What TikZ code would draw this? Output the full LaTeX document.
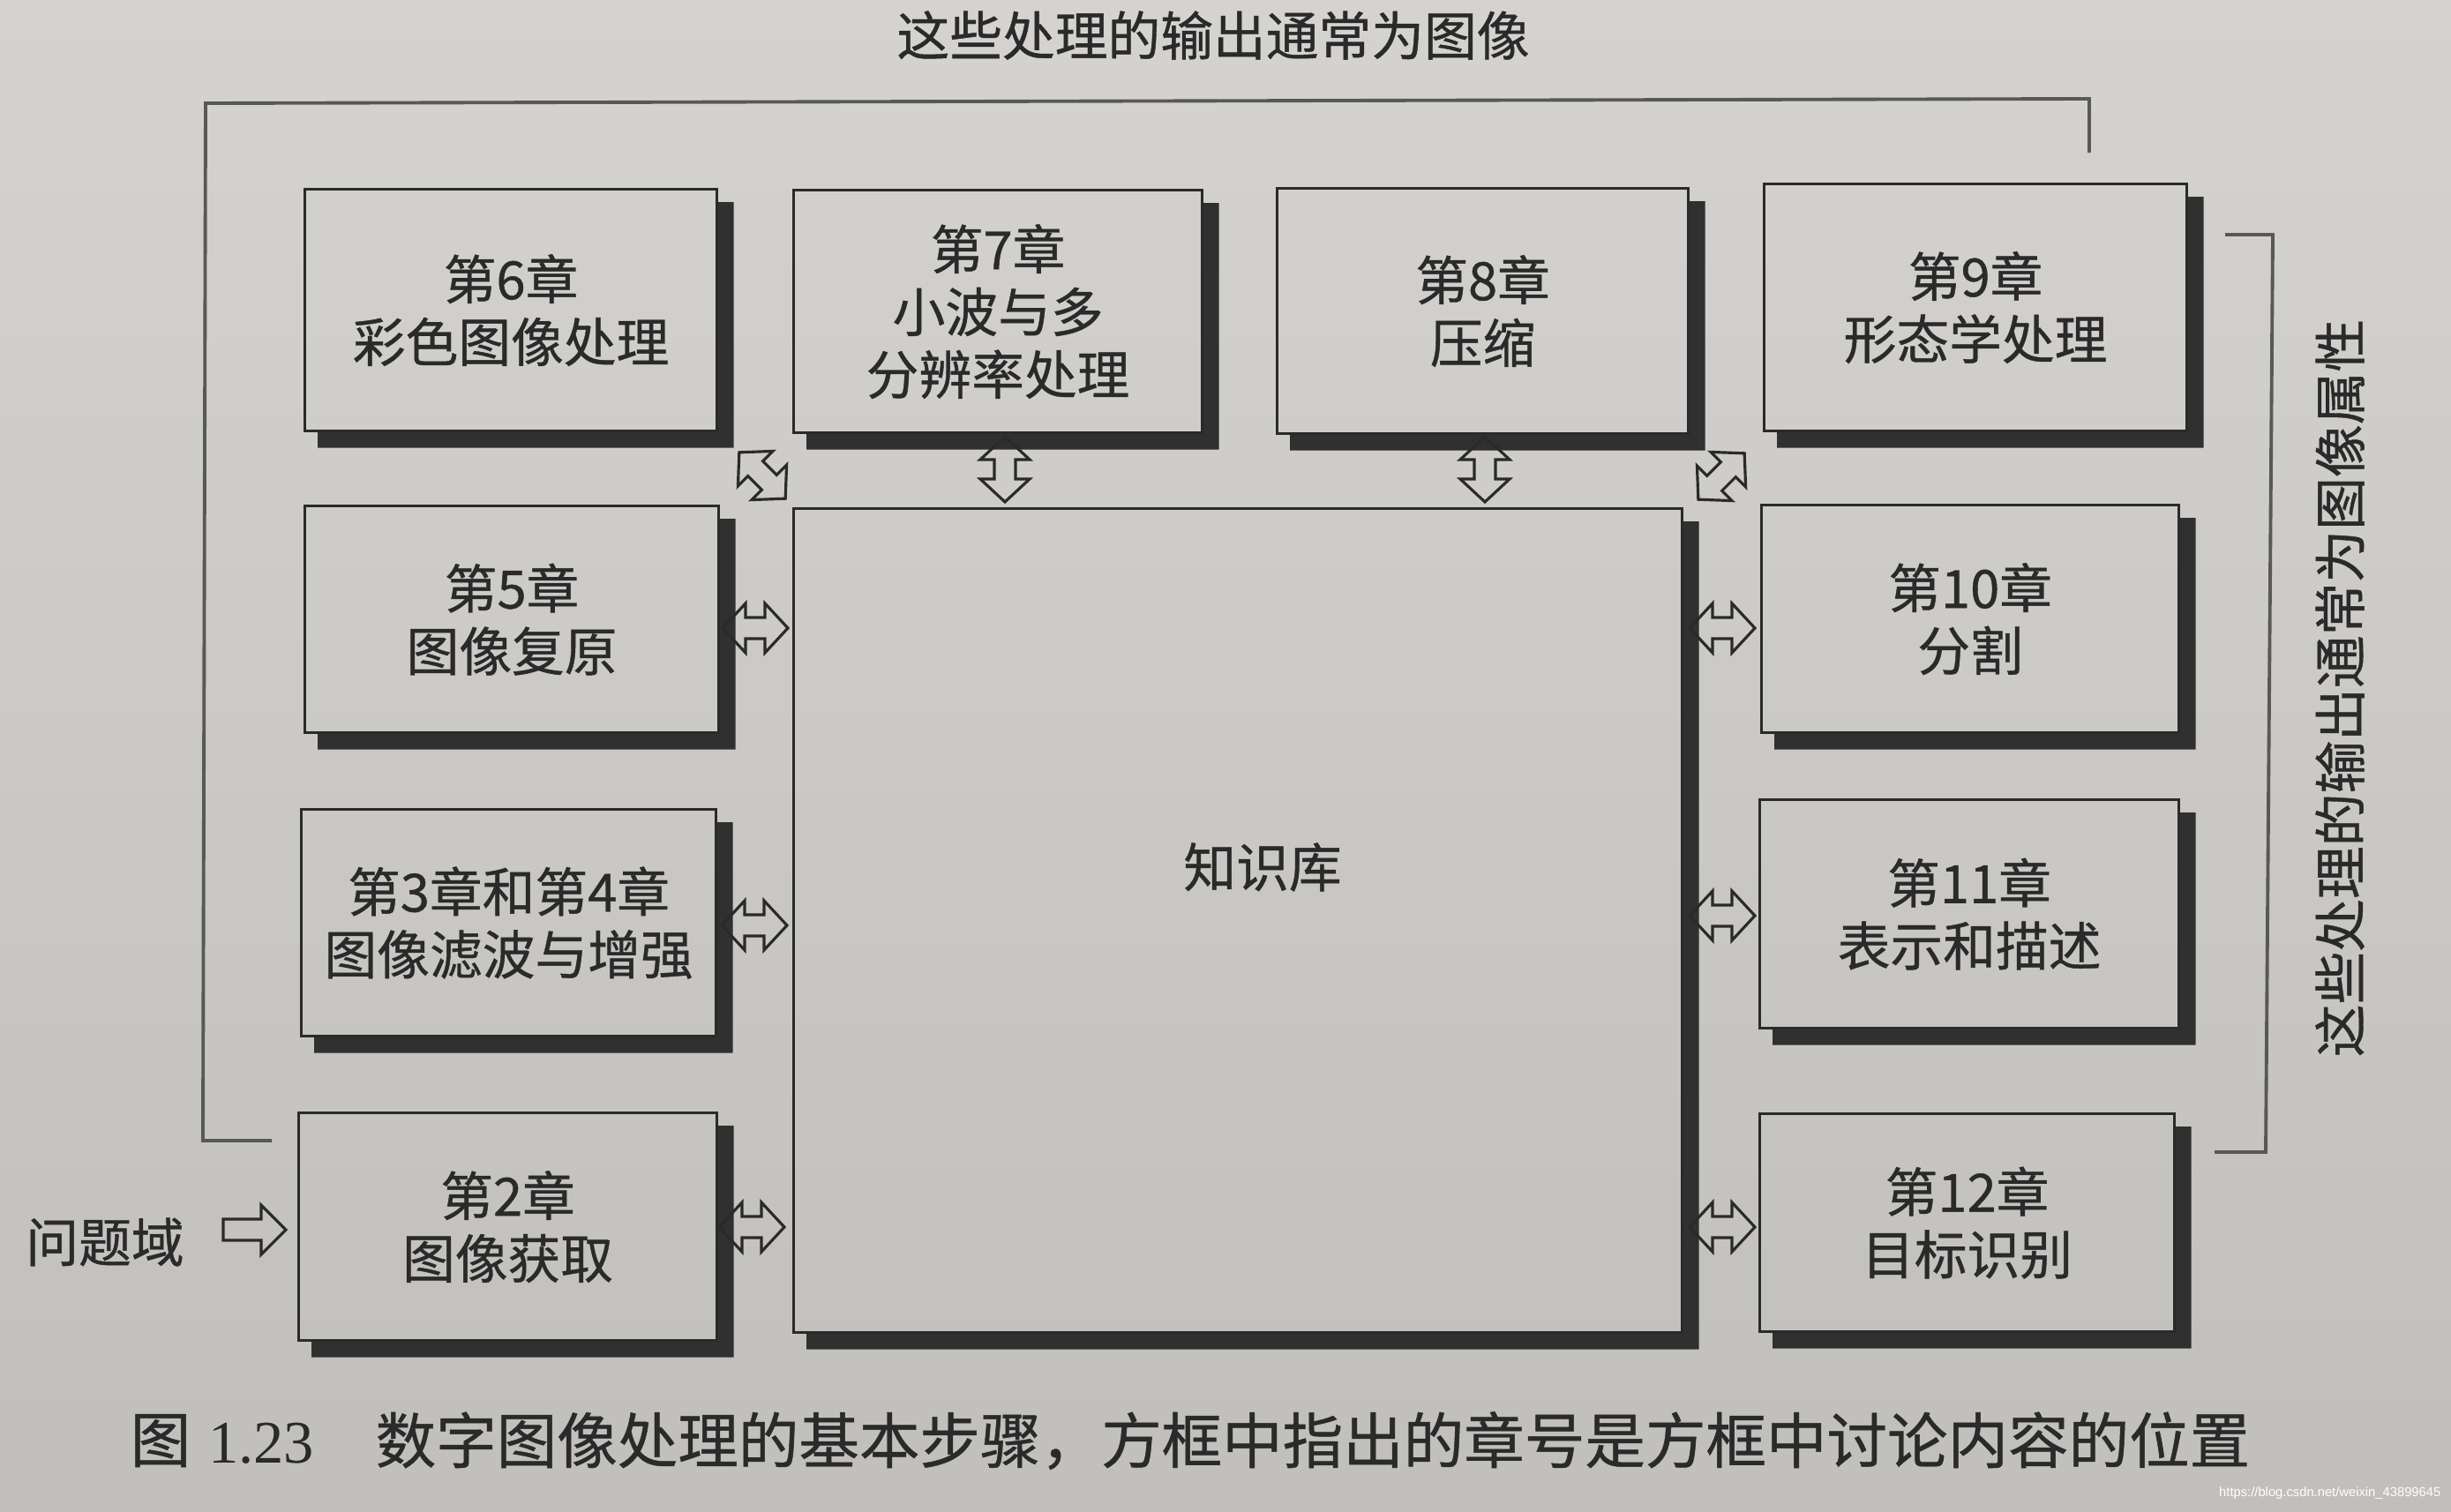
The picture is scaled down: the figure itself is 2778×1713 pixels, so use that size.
\documentclass[tikz,border=0pt]{standalone}
\usepackage{fontspec}
\setmainfont{Noto Sans CJK SC}
\newfontfamily\medfont{Noto Sans CJK SC}[FakeBold=0.7]
\newfontfamily\serifnum{Liberation Serif}
\newfontfamily\wmfont{Liberation Sans}
\usetikzlibrary{calc}
\definecolor{paperTop}{RGB}{213,211,208}
\definecolor{paperBot}{RGB}{193,191,188}
\definecolor{ink}{RGB}{42,42,42}
\definecolor{shadowcol}{RGB}{48,48,48}
\definecolor{bracketc}{RGB}{88,88,88}
\newcommand\boxshadow[1]{%
  \fill[shadowcol] ([yshift=-1.6mm]#1.north east) -- ([xshift=1.75mm,yshift=-1.6mm]#1.north east)
    -- ([xshift=1.75mm,yshift=-1.75mm]#1.south east) -- ([xshift=1.6mm,yshift=-1.75mm]#1.south west)
    -- ([xshift=1.6mm]#1.south west) -- (#1.south east) -- cycle;}
% hollow double arrow centred at #1, axis at angle #2
\newcommand\dblarrow[2]{%
  \draw[arrowline, shift={(#1)}, rotate=#2]
    (-37,0) -- (-11,-28) -- (-11,-12) -- (11,-12) -- (11,-28) -- (37,0)
    -- (11,28) -- (11,12) -- (-11,12) -- (-11,28) -- cycle;}
\tikzset{
  box/.style={draw=ink, line width=0.9pt, rectangle, inner sep=0pt, anchor=north west,
    align=center, text=ink, font=\medfont\fontsize{17pt}{20.2pt}\selectfont},
  arrowline/.style={draw=ink, line width=0.9pt, line join=miter},
  txt/.style={text=ink, inner sep=0pt, font=\medfont\fontsize{17pt}{20.2pt}\selectfont},
  bracket/.style={draw=bracketc, line width=1.1pt},
}
\begin{document}
\begin{tikzpicture}[x=0.1mm, y=-0.1mm]
\shade[top color=paperTop, bottom color=paperBot] (0,0) rectangle (2778,1713);
\useasboundingbox (0,0) rectangle (2778,1713);

% boxes
\node[box, minimum width=46.7mm, minimum height=27.4mm] (b6) at (344,213) {第6章\\彩色图像处理};
\node[box, minimum width=46.3mm, minimum height=27.5mm] (b7) at (898,214) {第7章\\小波与多\\分辨率处理};
\node[box, minimum width=46.6mm, minimum height=27.8mm] (b8) at (1446,212) {第8章\\压缩};
\node[box, minimum width=47.9mm, minimum height=28.0mm] (b9) at (1998,207) {第9章\\形态学处理};
\node[box, minimum width=46.9mm, minimum height=25.7mm] (b5) at (344,572) {第5章\\图像复原};
\node[box, minimum width=100.7mm, minimum height=93.4mm] (kb) at (898,575) {};
\node[box, minimum width=47.3mm, minimum height=25.8mm] (b10) at (1995,571) {第10章\\分割};
\node[box, minimum width=47.0mm, minimum height=25.7mm] (b34) at (340,916) {第3章和第4章\\图像滤波与增强};
\node[box, minimum width=47.5mm, minimum height=25.9mm] (b11) at (1993,905) {第11章\\表示和描述};
\node[box, minimum width=47.4mm, minimum height=25.8mm] (b2) at (337,1260) {第2章\\图像获取};
\node[box, minimum width=47.0mm, minimum height=24.7mm] (b12) at (1993,1261) {第12章\\目标识别};

\foreach \b in {b6,b7,b8,b9,b5,kb,b10,b34,b11,b2,b12} {\boxshadow{\b}}

\node[txt] (kbt) at (1431,983) {知识库};

% hollow double arrows between the boxes and the knowledge base
\dblarrow{856,712}{0}
\dblarrow{855,1049}{0}
\dblarrow{852,1391}{0}
\dblarrow{1952,712}{0}
\dblarrow{1952,1038}{0}
\dblarrow{1952,1391}{0}
\dblarrow{1139,532}{90}
\dblarrow{1683,532}{90}
\dblarrow{864,539}{-45}
\dblarrow{1951,540}{45}

% input
\node[txt] (dom) at (119,1408) {问题域};
\draw[arrowline] (253,1382) -- (296,1382) -- (296,1366) -- (324,1394) -- (296,1422) -- (296,1406) -- (253,1406) -- cycle;

% brackets
\draw[bracket] (308,1293) -- (230,1293) -- (233,117) -- (2368,112) -- (2368,173);
\draw[bracket] (2522,266) -- (2576,266) -- (2568,1306) -- (2510,1306);

\node[txt] (top) at (1375,40) {这些处理的输出通常为图像};
\node[txt, rotate=90] (side) at (2652,780) {这些处理的输出通常为图像属性};

% caption
\node[text=ink, inner sep=0pt, font=\medfont\fontsize{19.5pt}{22pt}\selectfont] (capf) at (182,1633) {图};
\node[text=ink, inner sep=0pt, font=\serifnum\fontsize{19.5pt}{22pt}\selectfont] (capn) at (296,1636) {1.23};
\node[text=ink, inner sep=0pt, anchor=west, font=\medfont\fontsize{19.5pt}{22pt}\selectfont] (capt) at (425,1633) {数字图像处理的基本步骤，方框中指出的章号是方框中讨论内容的位置};

\node[text=white, inner sep=0pt, anchor=east, font=\wmfont\fontsize{4.2pt}{5pt}\selectfont] (wm) at (2767,1693) {https://blog.csdn.net/weixin\_43899645};
\end{tikzpicture}
\end{document}
